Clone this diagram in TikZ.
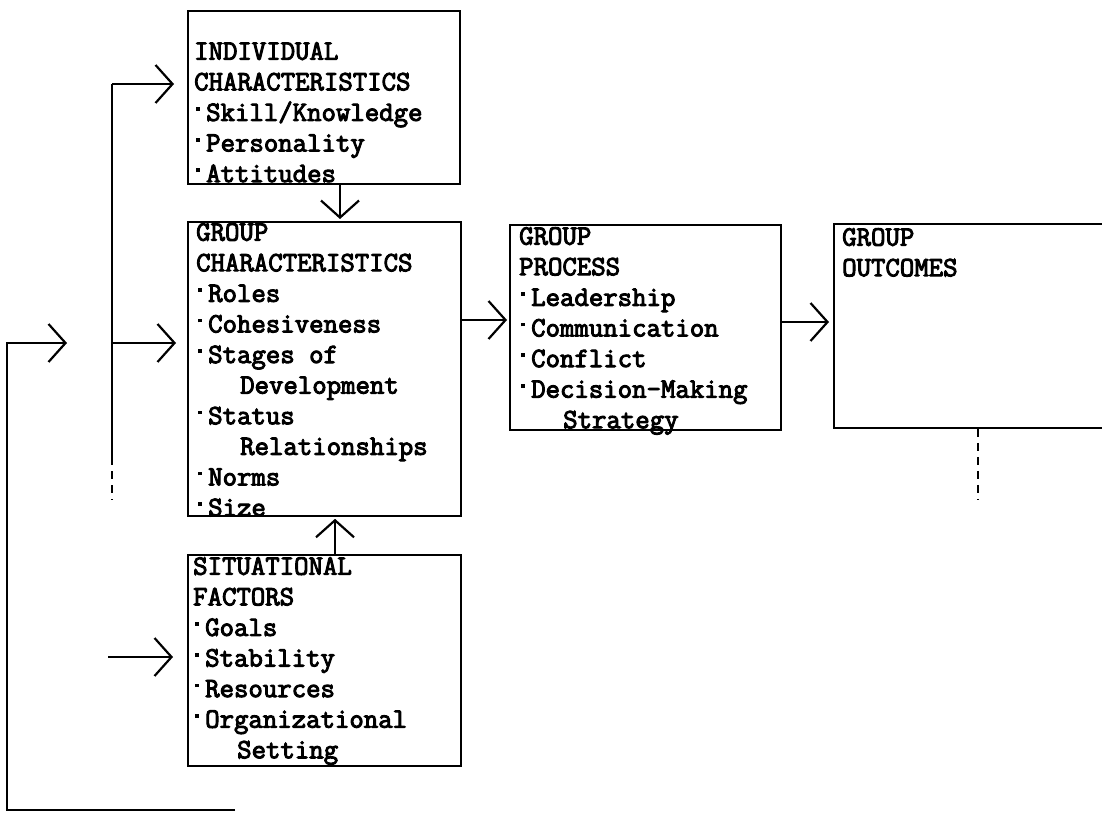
\documentclass[tikz,border=0pt]{standalone}
\usepackage{fontspec}
\newfontfamily\tw{Latin Modern Mono}[AutoFakeBold=3.5]
\usetikzlibrary{arrows.meta}
\newcommand\bt{\makebox[12pt][l]{\hspace{2pt}\rule[10pt]{3.6pt}{3.6pt}}}
\newcommand\ind{\hspace*{44pt}}
\begin{document}
\begin{tikzpicture}[x=1pt,y=-1pt,
  box/.style={draw,line width=1.8pt,rectangle,inner sep=0pt,anchor=north west},
  txt/.style={anchor=north west,inner sep=0pt,align=left,font=\tw\bfseries\fontsize{28}{30.6}\selectfont},
  arr/.style={line width=1.8pt,-{Straight Barb[length=17pt,width=38pt,line width=2.2pt]}},
  ln/.style={line width=1.8pt},
  faint/.style={line width=1.2pt,dash pattern=on 8pt off 6pt},
]
\useasboundingbox (0,0) rectangle (1102,813);
% boxes
\node[box,minimum width=272pt,minimum height=173pt] (indiv) at (187,10) {};
\node[box,minimum width=273pt,minimum height=294pt] (gchar) at (187,221) {};
\node[box,minimum width=273pt,minimum height=211pt] (sit) at (187,554) {};
\node[box,minimum width=271pt,minimum height=205pt] (proc) at (509,224) {};
\node[box,minimum width=280pt,minimum height=204pt] (outc) at (833,223) {};
% texts
\node[txt] (indivT) at (194,42) {INDIVIDUAL\\CHARACTERISTICS\\\bt Skill/Knowledge\\\bt Personality\\\bt Attitudes};
\node[txt] (gcharT) at (196,223) {GROUP\\CHARACTERISTICS\\\bt Roles\\\bt Cohesiveness\\\bt Stages of\\\ind Development\\\bt Status\\\ind Relationships\\\bt Norms\\\bt Size};
\node[txt] (sitT) at (193,557) {SITUATIONAL\\FACTORS\\\bt Goals\\\bt Stability\\\bt Resources\\\bt Organizational\\\ind Setting};
\node[txt] (procT) at (519,227) {GROUP\\PROCESS\\\bt Leadership\\\bt Communication\\\bt Conflict\\\bt Decision-Making\\\ind Strategy};
\node[txt] (outcT) at (842,228) {GROUP\\OUTCOMES};
% trunk on the left
\coordinate (tTop) at (112,84);
\coordinate (tMid) at (112,343);
\coordinate (tEnd) at (112,457);
\coordinate (tFade) at (112,500);
\draw[ln] (tTop) -- (tEnd);
\draw[faint] (tEnd) -- (tFade);
\draw[arr,shorten >=13pt] (tTop) -- (tTop -| indiv.west);
\draw[arr,shorten >=11pt] (tMid) -- (tMid -| gchar.west);
\coordinate (sIn) at (108,657);
\draw[arr,shorten >=14pt] (sIn) -- (sIn -| sit.west);
% feedback loop
\coordinate (fbA) at (235,810);
\coordinate (fbB) at (7,343);
\coordinate (fbC) at (67,343);
\draw[arr] (fbA) -| (fbB) -- (fbC);
% vertical arrows
\coordinate (xa) at (340,0);
\draw[arr,shorten >=2pt] (xa |- indiv.south) -- (xa |- gchar.north);
\coordinate (xb) at (335,0);
\draw[arr,shorten >=2pt] (xb |- sit.north) -- (xb |- gchar.south);
% horizontal arrows
\coordinate (ya) at (0,320);
\draw[arr,shorten >=2pt] (ya -| gchar.east) -- (ya -| proc.west);
\coordinate (yb) at (0,322);
\draw[arr,shorten >=4pt] (yb -| proc.east) -- (yb -| outc.west);
% dashed line below outcomes
\coordinate (dEnd) at (978,500);
\draw[faint] (dEnd |- outc.south) -- (dEnd);
\end{tikzpicture}
\end{document}
